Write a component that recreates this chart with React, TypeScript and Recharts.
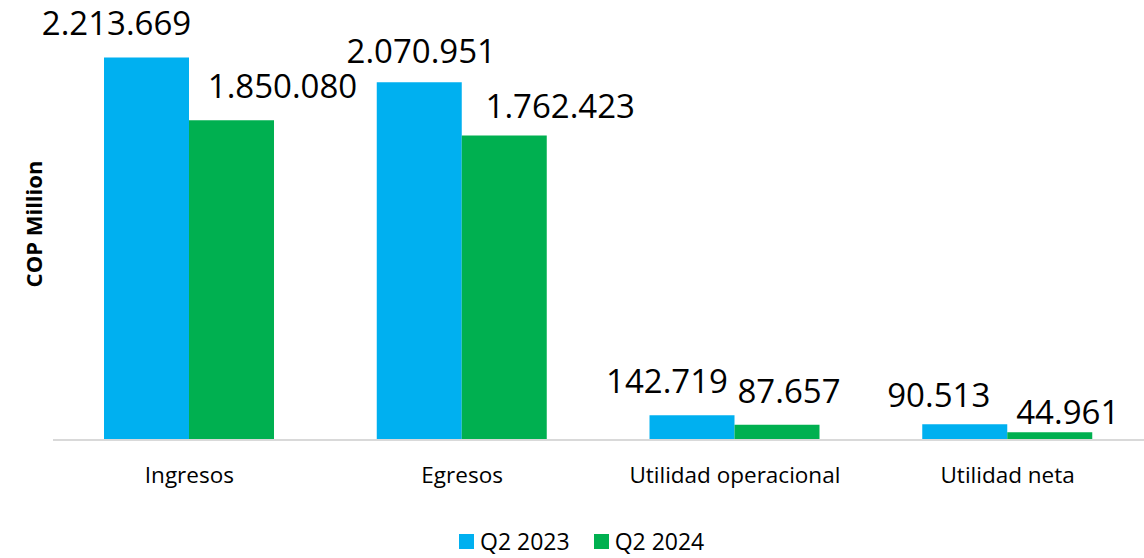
import { BarChart, Bar, XAxis, YAxis, Legend, LabelList } from "recharts";

const categories = ["Ingresos", "Egresos", "Utilidad operacional", "Utilidad neta"];
const q2023 = [2213669, 2070951, 142719, 90513];
const q2024 = [1850080, 1762423, 87657, 44961];
const seriesNames = ["Q2 2023", "Q2 2024"];

// manual label nudges (dx, extra dy) like the hand-placed labels in the original
const nudge2023 = [
  [-30, 0],
  [2, 3],
  [-25, 0],
  [-26, 5],
];
const nudge2024 = [
  [51, 0],
  [56, 5],
  [12, 0],
  [18, 14],
];

const BLUE = "#00B0F0";
const GREEN = "#00B050";
const FONT = "'Open Sans', sans-serif";

const data = categories.map((name, i) => ({
  name,
  q2023: q2023[i],
  q2024: q2024[i],
}));

const fmt = (v: number) => String(v).replace(/\B(?=(\d{3})+(?!\d))/g, ".");

const makeLabel = (nudges: number[][]) => (props: any) => {
  const { x, y, width, value, index } = props;
  const [dx, dy] = nudges[index] || [0, 0];
  return (
    <text
      x={Number(x) + Number(width) / 2 + dx}
      y={Number(y) - 22 + dy}
      textAnchor="middle"
      fontFamily={FONT}
      fontSize={33}
      fill="#000"
    >
      {fmt(Number(value))}
    </text>
  );
};

const Tick = (props: any) => {
  const { x, y, payload } = props;
  return (
    <text x={x} y={y + 43} textAnchor="middle" fontFamily={FONT} fontSize={22.5} fill="#000">
      {payload.value}
    </text>
  );
};

const LegendContent = () => (
  <div
    style={{
      display: "flex",
      alignItems: "center",
      paddingLeft: 459,
      fontFamily: FONT,
      fontSize: 23,
      color: "#000",
      lineHeight: "24px",
    }}
  >
    {[BLUE, GREEN].map((c, i) => (
      <div key={i} style={{ display: "flex", alignItems: "center", marginRight: 24 }}>
        <span style={{ width: 15, height: 15, background: c, display: "inline-block", marginRight: 6 }} />
        <span>{seriesNames[i]}</span>
      </div>
    ))}
  </div>
);

export default function App() {
  return (
    <div style={{ position: "absolute", left: 0, top: 0, background: "#fff" }}>
      <BarChart
        width={1144}
        height={558}
        data={data}
        margin={{ top: 8, right: 0, left: 0, bottom: 0 }}
        barCategoryGap="18.7%"
        barGap={0}
      >
        <XAxis
          dataKey="name"
          height={118}
          tickLine={false}
          tickSize={0}
          tickMargin={0}
          axisLine={{ stroke: "#d9d9d9", strokeWidth: 2 }}
          tick={<Tick />}
          interval={0}
        />
        <YAxis
          width={53}
          domain={[0, 2500000]}
          tick={false}
          tickLine={false}
          axisLine={false}
          label={{
            value: "COP Million",
            angle: -90,
            position: "insideLeft",
            dx: 29,
            style: { fontFamily: FONT, fontSize: 22, fontWeight: 700, fill: "#000", textAnchor: "middle" },
          }}
        />
        <Legend
          verticalAlign="middle"
          layout="horizontal"
          content={<LegendContent />}
          wrapperStyle={{ top: 529, left: 0, width: 1144 }}
        />
        <Bar dataKey="q2023" name={seriesNames[0]} fill={BLUE} isAnimationActive={false}>
          <LabelList dataKey="q2023" content={makeLabel(nudge2023)} />
        </Bar>
        <Bar dataKey="q2024" name={seriesNames[1]} fill={GREEN} isAnimationActive={false}>
          <LabelList dataKey="q2024" content={makeLabel(nudge2024)} />
        </Bar>
      </BarChart>
    </div>
  );
}
